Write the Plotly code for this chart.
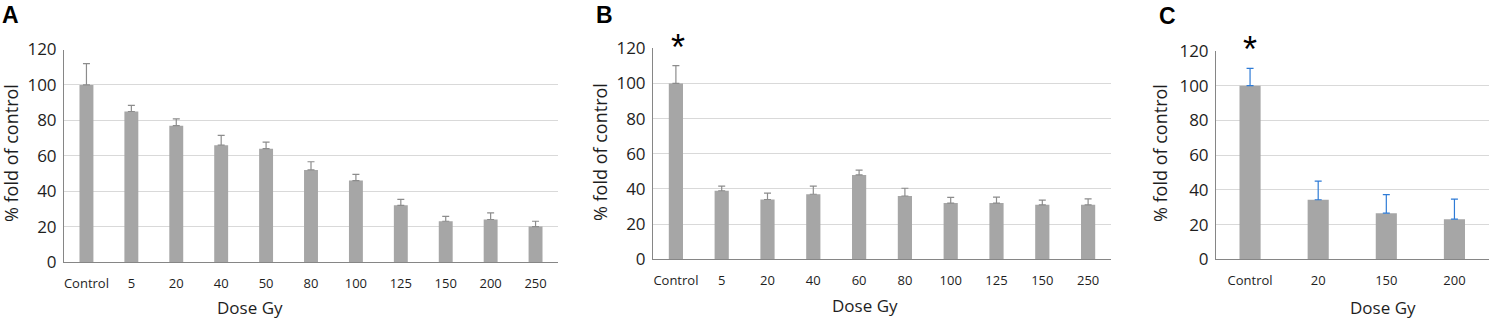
import plotly.graph_objects as go

# ---- data ----
cats_a = ["Control", "5", "20", "40", "50", "80", "100", "125", "150", "200", "250"]
vals_a = [100, 85, 77, 66, 64, 52, 46, 32, 23, 24, 20]
upper_a = [112, 88.5, 80.8, 71.5, 67.7, 56.6, 49.5, 35.4, 25.8, 27.7, 23]

cats_b = ["Control", "5", "20", "40", "60", "80", "100", "125", "150", "250"]
vals_b = [100, 39, 34, 37, 48, 36, 32, 32, 31, 31]
upper_b = [110.2, 41.6, 37.6, 41.6, 50.7, 40.4, 35.2, 35.4, 33.6, 34.4]

cats_c = ["Control", "20", "150", "200"]
vals_c = [100, 34.3, 26.6, 23.1]
upper_c = [110, 45, 37.3, 34.7]

y_ticks = [0, 20, 40, 60, 80, 100, 120]
panel_letters = ["A", "B", "C"]

BAR = "#A6A6A6"
GRID = "#D9D9D9"
AXIS = "#868686"
FONT = "Open Sans"
TXT = "#1e1e1e"
W, H = 1489, 320

fig = go.Figure()

panels = [
    (cats_a, vals_a, upper_a, "#8C8C8C", (64, 558), (49.5, 262)),
    (cats_b, vals_b, upper_b, "#8C8C8C", (653, 1111), (48.3, 259.3)),
    (cats_c, vals_c, upper_c, "#2E7BD6", (1216, 1488.5), (51, 259.3)),
]

def px2x(p):
    return p / W

def px2y(p):
    return 1 - p / H

for i, (cats, vals, upper, ecol, (xl, xr), (yt, yb)) in enumerate(panels):
    n = i + 1
    xa = "x" if n == 1 else f"x{n}"
    ya = "y" if n == 1 else f"y{n}"
    plus = [u - v for u, v in zip(upper, vals)]
    fig.add_trace(go.Bar(
        x=cats, y=vals, xaxis=xa, yaxis=ya,
        marker=dict(color=BAR, line=dict(width=0)),
        width=0.31,
        error_y=dict(type="data", symmetric=False, array=plus,
                     arrayminus=[0] * len(vals), color=ecol,
                     thickness=1.2, width=3.5),
        showlegend=False,
    ))
    xkey = "xaxis" if n == 1 else f"xaxis{n}"
    ykey = "yaxis" if n == 1 else f"yaxis{n}"
    fig.layout[xkey] = dict(
        domain=[px2x(xl), px2x(xr)], anchor=ya,
        type="category", range=[-0.5, len(cats) - 0.5],
        showline=True, linecolor=AXIS, linewidth=1.3,
        showgrid=False, ticks="", ticklabelstandoff=9,
        tickfont=dict(family=FONT, size=13, color=TXT),
        fixedrange=True, automargin=False,
    )
    fig.layout[ykey] = dict(
        domain=[px2y(yb), px2y(yt)], anchor=xa,
        range=[0, 120], tickvals=y_ticks,
        showline=True, linecolor=AXIS, linewidth=1,
        showgrid=True, gridcolor=GRID, gridwidth=1.2,
        zeroline=False, ticks="", ticklabelstandoff=3,
        tickfont=dict(family=FONT, size=17, color=TXT),
        fixedrange=True, automargin=False,
    )

# annotations: panel letters, y titles, x titles, asterisks
letters_pos = [(10, 15), (604, 15), (1167, 16)]
ytitle_x = [11, 600, 1160]
ytitle_y = [153, 152, 153]
xtitle_pos = [(250, 307), (865, 305), (1383, 307)]

for i in range(3):
    fig.add_annotation(text=f"<b>{panel_letters[i]}</b>", xref="paper", yref="paper",
                       x=px2x(letters_pos[i][0]), y=px2y(letters_pos[i][1]),
                       showarrow=False, xanchor="center", yanchor="middle",
                       font=dict(family="Liberation Sans", size=23, color="black"))
    fig.add_annotation(text="% fold of control", xref="paper", yref="paper",
                       x=px2x(ytitle_x[i]), y=px2y(ytitle_y[i]), textangle=-90,
                       showarrow=False, xanchor="center", yanchor="middle",
                       font=dict(family=FONT, size=18, color=TXT))
    fig.add_annotation(text="Dose Gy", xref="paper", yref="paper",
                       x=px2x(xtitle_pos[i][0]), y=px2y(xtitle_pos[i][1]),
                       showarrow=False, xanchor="center", yanchor="middle",
                       font=dict(family=FONT, size=17, color=TXT))

for n, yy, dx in [(2, 41.5, 2), (3, 42.5, 0)]:
    fig.add_annotation(text="*", xref=f"x{n}", yref="paper",
                       x="Control", y=px2y(yy), showarrow=False,
                       xanchor="center", yanchor="middle", yshift=-6.5, xshift=dx,
                       font=dict(family="Liberation Sans", size=36, color="black"))

fig.update_layout(
    width=W, height=H,
    margin=dict(l=0, r=0, t=0, b=0, pad=0, autoexpand=False),
    paper_bgcolor="white", plot_bgcolor="white",
    bargap=0.69,
)

fig.write_html("out.html", config={"displayModeBar": False},
               post_script="document.body.style.margin='0';document.body.style.overflow='hidden';")
